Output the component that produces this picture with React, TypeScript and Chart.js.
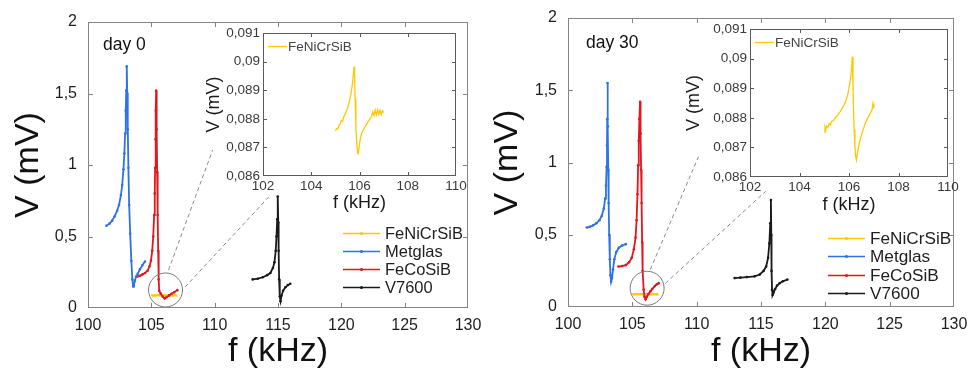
import React, { useEffect, useRef } from "react";
import { Chart, registerables } from "chart.js";
Chart.register(...registerables);

const FONT = "Arial, 'Liberation Sans', Helvetica, sans-serif";
Chart.defaults.font.family = FONT;

// ---------- tick values ----------
const MAIN_X_TICKS = [100, 105, 110, 115, 120, 125, 130];
const MAIN_Y_TICKS = [0, 0.5, 1, 1.5, 2];
const INSET_X_TICKS = [102, 104, 106, 108, 110];
const INSET_Y_TICKS = [0.086, 0.087, 0.088, 0.089, 0.09, 0.091];

const SERIES_NAMES = ["FeNiCrSiB", "Metglas", "FeCoSiB", "V7600"];
const SERIES_COLORS = ["#FFC800", "#2E72E6", "#E3161E", "#1A1A1A"];

// ---------- day 0 ----------
const d0FeNiF = [105.0, 105.05, 105.1, 105.15, 105.2, 105.25, 105.3, 105.35, 105.4, 105.45, 105.5, 105.55, 105.6, 105.65, 105.7, 105.74, 105.78, 105.8, 105.82, 105.85, 105.88, 105.92, 105.95, 106.0, 106.05, 106.1, 106.2, 106.3, 106.4, 106.5, 106.55, 106.6, 106.65, 106.7, 106.75, 106.8, 106.85, 106.9, 106.95, 107.0];
const d0FeNiV = [0.08758, 0.08766, 0.08764, 0.08778, 0.08782, 0.08794, 0.08792, 0.08806, 0.08815, 0.08826, 0.08836, 0.0885, 0.08868, 0.0889, 0.08918, 0.0895, 0.08983, 0.0894, 0.0887, 0.0878, 0.0872, 0.08682, 0.08678, 0.08712, 0.08738, 0.08752, 0.08768, 0.08782, 0.08796, 0.08808, 0.08824, 0.08812, 0.0883, 0.08814, 0.08832, 0.08816, 0.0883, 0.08815, 0.08828, 0.08822];

const d0MetF = [101.45, 101.7, 101.9, 102.1, 102.3, 102.45, 102.6, 102.7, 102.8, 102.87, 102.93, 102.98, 103.02, 103.06, 103.1, 103.14, 103.19, 103.25, 103.33, 103.42, 103.5, 103.57, 103.62, 103.7, 103.8, 103.93, 104.1, 104.3, 104.5];
const d0MetV = [0.575, 0.59, 0.61, 0.64, 0.68, 0.72, 0.79, 0.86, 0.97, 1.08, 1.22, 1.38, 1.52, 1.69, 1.5, 1.25, 0.98, 0.72, 0.52, 0.33, 0.2, 0.15, 0.155, 0.19, 0.22, 0.24, 0.27, 0.3, 0.325];

const d0CoF = [103.9, 104.1, 104.3, 104.5, 104.7, 104.85, 104.97, 105.07, 105.15, 105.22, 105.27, 105.3, 105.33, 105.36, 105.38, 105.42, 105.46, 105.5, 105.54, 105.58, 105.62, 105.75, 105.9, 106.05, 106.2, 106.4, 106.6, 106.8, 107.05];
const d0CoV = [0.22, 0.225, 0.235, 0.245, 0.26, 0.29, 0.33, 0.4, 0.5, 0.65, 0.8, 0.98, 1.18, 1.38, 1.52, 1.25, 0.95, 0.65, 0.4, 0.2, 0.12, 0.1, 0.08, 0.066, 0.075, 0.088, 0.1, 0.11, 0.125];

const d0V76F = [113.0, 113.4, 113.8, 114.15, 114.4, 114.6, 114.72, 114.82, 114.88, 114.94, 114.98, 115.02, 115.05, 115.09, 115.14, 115.2, 115.27, 115.4, 115.58, 115.78, 115.97];
const d0V76V = [0.2, 0.205, 0.215, 0.23, 0.245, 0.28, 0.32, 0.4, 0.5, 0.62, 0.78, 0.6, 0.4, 0.2, 0.08, 0.048, 0.085, 0.12, 0.145, 0.16, 0.17];

// ---------- day 30 ----------
const d30FeNiF = [105.0, 105.03, 105.06, 105.1, 105.15, 105.2, 105.25, 105.3, 105.37, 105.45, 105.55, 105.65, 105.75, 105.85, 105.95, 106.02, 106.07, 106.11, 106.13, 106.16, 106.18, 106.21, 106.24, 106.27, 106.3, 106.35, 106.44, 106.55, 106.65, 106.75, 106.85, 106.93, 106.97, 107.0];
const d30FeNiV = [0.08752, 0.08768, 0.08758, 0.08772, 0.08768, 0.0878, 0.08776, 0.08788, 0.0879, 0.088, 0.0881, 0.08822, 0.08835, 0.08852, 0.08878, 0.0891, 0.08937, 0.08975, 0.09006, 0.0892, 0.08837, 0.0876, 0.087, 0.08668, 0.08657, 0.08685, 0.08723, 0.08755, 0.0878, 0.08798, 0.08814, 0.08826, 0.08848, 0.08832];

const d30MetF = [101.46, 101.7, 101.95, 102.2, 102.44, 102.62, 102.78, 102.88, 102.95, 103.0, 103.03, 103.05, 103.07, 103.1, 103.13, 103.16, 103.2, 103.25, 103.3, 103.35, 103.42, 103.5, 103.6, 103.75, 103.95, 104.2, 104.49];
const d30MetV = [0.55, 0.555, 0.565, 0.58, 0.6, 0.63, 0.68, 0.75, 0.84, 0.97, 1.12, 1.3, 1.55, 1.25, 0.95, 0.72, 0.5, 0.33, 0.22, 0.175, 0.2, 0.26, 0.33, 0.38, 0.41, 0.425, 0.435];

const d30CoF = [103.92, 104.2, 104.5, 104.75, 104.95, 105.12, 105.25, 105.33, 105.4, 105.45, 105.5, 105.55, 105.6, 105.64, 105.68, 105.72, 105.76, 105.8, 105.88, 105.95, 106.03, 106.12, 106.25, 106.4, 106.55, 106.75, 106.9, 107.05];
const d30CoV = [0.28, 0.283, 0.29, 0.31, 0.34, 0.4, 0.48, 0.6, 0.78, 0.98, 1.15, 1.3, 1.42, 1.2, 0.95, 0.72, 0.45, 0.25, 0.12, 0.07, 0.053, 0.07, 0.09, 0.108, 0.125, 0.145, 0.157, 0.165];

const d30V76F = [112.95, 113.4, 113.9, 114.5, 114.9, 115.2, 115.4, 115.55, 115.65, 115.72, 115.77, 115.8, 115.82, 115.86, 115.9, 115.98, 116.1, 116.25, 116.45, 116.7, 117.05];
const d30V76V = [0.2, 0.203, 0.207, 0.212, 0.225, 0.25, 0.28, 0.34, 0.44, 0.58, 0.74, 0.5, 0.25, 0.12, 0.083, 0.1, 0.125, 0.148, 0.165, 0.178, 0.19];

// ---------- zoom annotations (data units of main chart) ----------
const d0Circle = [106.12, 0.126];
const d0Dash1 = [[106.36, 0.266], [109.84, 1.105]];
const d0Dash2 = [[107.67, 0.147], [114.26, 0.776]];
const d30Circle = [106.15, 0.13];
const d30Dash1 = [[106.4, 0.26], [110.14, 1.04]];
const d30Dash2 = [[107.57, 0.164], [115.36, 0.8]];

const comma = (v: number) => String(v).replace(".", ",");
const xy = (f: number[], v: number[]) => f.map((x, i) => ({ x, y: v[i] }));

type Deco = {
  frame: string;
  tickLen: number;
  day?: { text: string; dx: number; dy: number; size: number };
  legend?: { dx: number; dy: number; step: number; size: number; lineLen: number; gap: number; color: string; dot: boolean };
};

function decoPlugin(d: Deco) {
  return {
    id: "deco",
    afterDatasetsDraw(chart: any) {
      const { ctx, chartArea } = chart;
      const { left, right, top, bottom } = chartArea;
      const xs = chart.scales.x;
      const ys = chart.scales.y;
      ctx.save();
      ctx.strokeStyle = d.frame;
      ctx.lineWidth = 1;
      ctx.setLineDash([]);
      ctx.strokeRect(Math.round(left) + 0.5, Math.round(top) + 0.5, Math.round(right - left) - 1, Math.round(bottom - top) - 1);
      ctx.beginPath();
      xs.ticks.forEach((t: any) => {
        if (t.value <= xs.min || t.value >= xs.max) return;
        const p = Math.round(xs.getPixelForValue(t.value)) + 0.5;
        ctx.moveTo(p, bottom);
        ctx.lineTo(p, bottom - d.tickLen);
        ctx.moveTo(p, top);
        ctx.lineTo(p, top + d.tickLen);
      });
      ys.ticks.forEach((t: any) => {
        if (t.value <= ys.min + 1e-9 || t.value >= ys.max - 1e-9) return;
        const p = Math.round(ys.getPixelForValue(t.value)) + 0.5;
        ctx.moveTo(left, p);
        ctx.lineTo(left + d.tickLen, p);
        ctx.moveTo(right, p);
        ctx.lineTo(right - d.tickLen, p);
      });
      ctx.stroke();

      if (d.day) {
        ctx.fillStyle = "#111";
        ctx.font = `${d.day.size}px ${FONT}`;
        ctx.textAlign = "left";
        ctx.textBaseline = "middle";
        ctx.fillText(d.day.text, left + d.day.dx, top + d.day.dy);
      }
      if (d.legend) {
        const L = d.legend;
        let i = 0;
        chart.data.datasets.forEach((ds: any) => {
          if (!ds.inLegend) return;
          const y = Math.round(top + L.dy + i * L.step) + 0.5;
          const x0 = left + L.dx;
          ctx.strokeStyle = ds.borderColor;
          ctx.lineWidth = 1.3;
          ctx.beginPath();
          ctx.moveTo(x0, y);
          ctx.lineTo(x0 + L.lineLen, y);
          ctx.stroke();
          if (L.dot) {
            ctx.fillStyle = ds.borderColor;
            ctx.beginPath();
            ctx.arc(x0 + L.lineLen / 2, y, 1.6, 0, Math.PI * 2);
            ctx.fill();
          }
          ctx.fillStyle = L.color;
          ctx.font = `${L.size}px ${FONT}`;
          ctx.textAlign = "left";
          ctx.textBaseline = "middle";
          ctx.fillText(ds.label, x0 + L.lineLen + L.gap, y + 1);
          i++;
        });
      }
      ctx.restore();
    },
  };
}

type AxisCfg = {
  min: number; max: number; ticks: number[]; size: number; fontSize: number; pad: number; color: string;
  title: string; titleSize: number; titlePad: any; titleColor: string;
};

function axis(a: AxisCfg, horizontal: boolean) {
  return {
    type: "linear",
    min: a.min,
    max: a.max,
    afterBuildTicks: (s: any) => {
      s.ticks = a.ticks.map((value) => ({ value }));
    },
    afterFit: (s: any) => {
      if (horizontal) s.height = a.size;
      else s.width = a.size;
      s.paddingLeft = 0;
      s.paddingRight = 0;
      s.paddingTop = 0;
      s.paddingBottom = 0;
    },
    grid: { display: false, drawTicks: false },
    border: { display: false },
    ticks: {
      autoSkip: false,
      maxRotation: 0,
      padding: a.pad,
      color: a.color,
      font: { size: a.fontSize, family: FONT },
      callback: (v: number) => comma(v),
    },
    title: {
      display: true,
      text: a.title,
      color: a.titleColor,
      font: { size: a.titleSize, family: FONT, lineHeight: 1 },
      padding: a.titlePad,
    },
  };
}

function mainConfig(p: {
  feni: [number[], number[]]; met: [number[], number[]]; co: [number[], number[]]; v76: [number[], number[]];
  circle: number[]; dash1: number[][]; dash2: number[][];
  yW: number; xH: number; padTop: number; padRight: number; yTitlePad: number;
  day: string; dayDx: number; dayDy: number; legDx: number; legDy: number; legStep: number; legSize: number;
}) {
  const series = [p.feni, p.met, p.co, p.v76];
  const datasets: any[] = series.map((s, i) => ({
    label: SERIES_NAMES[i],
    inLegend: true,
    data: xy(s[0], s[1]),
    borderColor: SERIES_COLORS[i],
    backgroundColor: SERIES_COLORS[i],
    borderWidth: i === 0 ? 2.4 : 1.8,
    pointRadius: i === 0 ? 0 : 1.3,
    pointBorderWidth: 0,
    pointBackgroundColor: SERIES_COLORS[i],
    tension: 0,
    order: i === 0 ? 5 : 1,
  }));
  datasets.push({
    label: "zoom",
    data: [{ x: p.circle[0], y: p.circle[1] }],
    showLine: false,
    pointRadius: 17,
    pointBorderWidth: 1,
    pointBorderColor: "#7a7a7a",
    pointBackgroundColor: "rgba(0,0,0,0)",
    order: 0,
  });
  [p.dash1, p.dash2].forEach((d) =>
    datasets.push({
      label: "link",
      data: d.map(([x, y]) => ({ x, y })),
      borderColor: "#8a8a8a",
      borderWidth: 1,
      borderDash: [4, 3],
      pointRadius: 0,
      order: 6,
    })
  );
  return {
    type: "line",
    data: { datasets },
    options: {
      animation: false,
      responsive: false,
      maintainAspectRatio: false,
      devicePixelRatio: 1,
      layout: { padding: { top: p.padTop, right: p.padRight, left: 0, bottom: 0 } },
      plugins: { legend: { display: false }, tooltip: { enabled: false } },
      scales: {
        x: axis({ min: 100, max: 130, ticks: MAIN_X_TICKS, size: p.xH, fontSize: 16, pad: 8, color: "#1e1e1e", title: "f (kHz)", titleSize: 34, titlePad: { top: 0, bottom: 0 }, titleColor: "#111" }, true),
        y: axis({ min: 0, max: 2, ticks: MAIN_Y_TICKS, size: p.yW, fontSize: 16, pad: 11, color: "#1e1e1e", title: "V (mV)", titleSize: 34, titlePad: { top: p.yTitlePad, bottom: 0 }, titleColor: "#111" }, false),
      },
    },
    plugins: [
      decoPlugin({
        frame: "#858585",
        tickLen: 5,
        day: { text: p.day, dx: p.dayDx, dy: p.dayDy, size: 17.5 },
        legend: { dx: p.legDx, dy: p.legDy, step: p.legStep, size: p.legSize, lineLen: 37, gap: 5, color: "#1e1e1e", dot: true },
      }),
    ],
  };
}

function insetConfig(p: { f: number[]; v: number[]; yW: number; xH: number; padTop: number; padRight: number; yTitlePad: number; xTitlePad: number }) {
  return {
    type: "line",
    data: {
      datasets: [
        {
          label: SERIES_NAMES[0],
          inLegend: true,
          data: xy(p.f, p.v),
          borderColor: "#FFC800",
          borderWidth: 1.3,
          pointRadius: 0,
          tension: 0,
        },
      ],
    },
    options: {
      animation: false,
      responsive: false,
      maintainAspectRatio: false,
      devicePixelRatio: 1,
      layout: { padding: { top: p.padTop, right: p.padRight, left: 0, bottom: 0 } },
      plugins: { legend: { display: false }, tooltip: { enabled: false } },
      scales: {
        x: axis({ min: 102, max: 110, ticks: INSET_X_TICKS, size: p.xH, fontSize: 13.5, pad: 2, color: "#3a3a3a", title: "f (kHz)", titleSize: 18, titlePad: { top: 0, bottom: p.xTitlePad }, titleColor: "#1a1a1a" }, true),
        y: axis({ min: 0.086, max: 0.091, ticks: INSET_Y_TICKS, size: p.yW, fontSize: 13.5, pad: 3, color: "#3a3a3a", title: "V (mV)", titleSize: 18, titlePad: { top: p.yTitlePad, bottom: 0 }, titleColor: "#1a1a1a" }, false),
      },
    },
    plugins: [
      decoPlugin({
        frame: "#5a5a5a",
        tickLen: 4,
        legend: { dx: 5, dy: 13, step: 16, size: 13.5, lineLen: 19, gap: 1, color: "#444", dot: false },
      }),
    ],
  };
}

function ChartBox({ make, left, top, width, height }: { make: () => any; left: number; top: number; width: number; height: number }) {
  const ref = useRef<HTMLCanvasElement>(null);
  useEffect(() => {
    const c = new Chart(ref.current as HTMLCanvasElement, make());
    return () => c.destroy();
  }, []);
  return <canvas ref={ref} width={width} height={height} style={{ position: "absolute", left, top, width, height }} />;
}

export default function App() {
  return (
    <div style={{ position: "absolute", left: 0, top: 0, width: 972, height: 369, background: "#fff", overflow: "hidden" }}>
      <ChartBox
        left={0} top={0} width={486} height={369}
        make={() =>
          mainConfig({
            feni: [d0FeNiF, d0FeNiV], met: [d0MetF, d0MetV], co: [d0CoF, d0CoV], v76: [d0V76F, d0V76V],
            circle: d0Circle, dash1: d0Dash1, dash2: d0Dash2,
            yW: 88, xH: 61, padTop: 22, padRight: 12, yTitlePad: 12,
            day: "day 0", dayDx: 15, dayDy: 23, legDx: 255, legDy: 211, legStep: 18, legSize: 16.5,
          })
        }
      />
      <ChartBox
        left={486} top={0} width={486} height={369}
        make={() =>
          mainConfig({
            feni: [d30FeNiF, d30FeNiV], met: [d30MetF, d30MetV], co: [d30CoF, d30CoV], v76: [d30V76F, d30V76V],
            circle: d30Circle, dash1: d30Dash1, dash2: d30Dash2,
            yW: 82, xH: 62, padTop: 18, padRight: 14, yTitlePad: 5,
            day: "day 30", dayDx: 18, dayDy: 25, legDx: 260, legDy: 220, legStep: 18.3, legSize: 17.2,
          })
        }
      />
      <ChartBox
        left={180} top={10} width={300} height={215}
        make={() => insetConfig({ f: d0FeNiF, v: d0FeNiV, yW: 83, xH: 49, padTop: 23, padRight: 24, yTitlePad: 25, xTitlePad: 13 })}
      />
      <ChartBox
        left={670} top={10} width={300} height={215}
        make={() => insetConfig({ f: d30FeNiF, v: d30FeNiV, yW: 80, xH: 48, padTop: 19, padRight: 22, yTitlePad: 15, xTitlePad: 11 })}
      />
    </div>
  );
}
